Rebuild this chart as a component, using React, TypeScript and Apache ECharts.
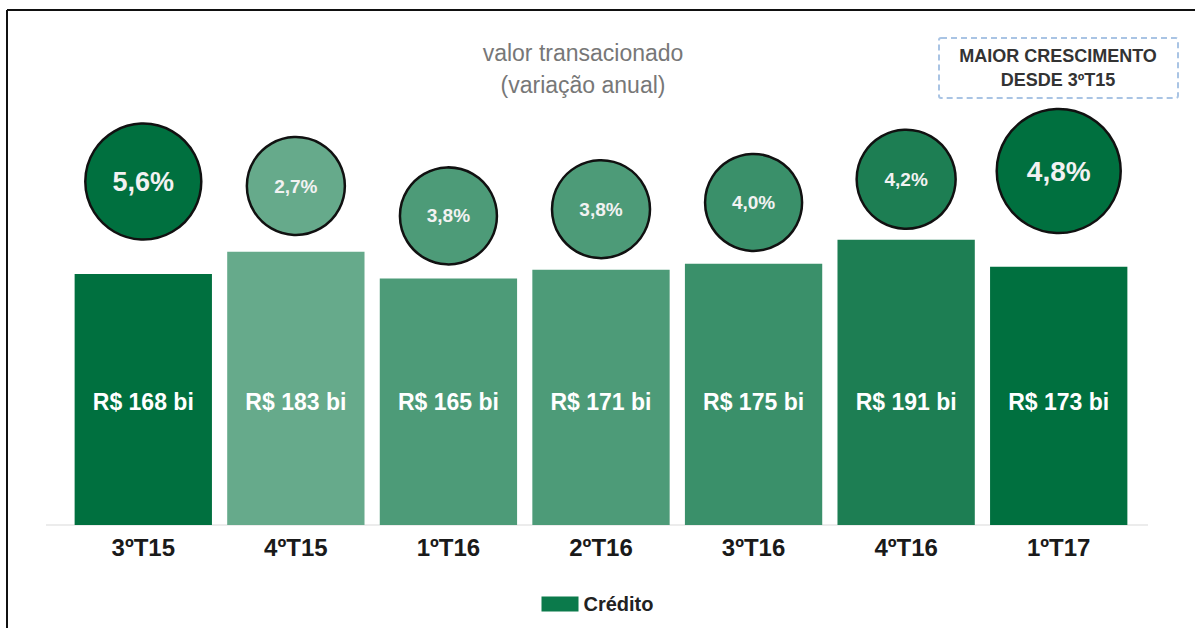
import React, { useEffect, useRef } from "react";
import * as echarts from "echarts";

const categories = ["3ºT15", "4ºT15", "1ºT16", "2ºT16", "3ºT16", "4ºT16", "1ºT17"];
const creditValues = [168, 183, 165, 171, 175, 191, 173];
const growthLabels = ["5,6%", "2,7%", "3,8%", "3,8%", "4,0%", "4,2%", "4,8%"];
const barColors = ["#00703F", "#66AA8B", "#4D9B78", "#4D9B78", "#3A906A", "#1D7E53", "#00703F"];
// bubble layout (placement on the value axis, diameter, font size)
const bubbleLevels = [230, 227, 207, 211.5, 216, 231.5, 237];
const bubbleSizes = [116, 98, 97, 98, 97, 99, 124];
const bubbleFont = [27, 19, 19, 19, 19, 19, 28];

const FONT = "Liberation Sans, Arial, sans-serif";

export default function App() {
  const ref = useRef<HTMLDivElement>(null);
  useEffect(() => {
    if (!ref.current) return;
    const chart = echarts.init(ref.current, null, { renderer: "svg" });
    chart.setOption({
      animation: false,
      backgroundColor: "#ffffff",
      textStyle: { fontFamily: FONT },
      grid: { left: 67, width: 1068, top: 77, bottom: 103 },
      legend: {
        data: ["Crédito"],
        top: 589,
        left: "center",
        icon: "rect",
        itemWidth: 37,
        itemHeight: 15,
        itemGap: 10,
        textStyle: { fontSize: 20, fontWeight: "bold", color: "#222", fontFamily: FONT },
      },
      xAxis: {
        type: "category",
        data: categories,
        axisLine: { show: false },
        axisTick: { show: false },
        axisLabel: { fontSize: 24, fontWeight: "bold", color: "#1a1a1a", margin: 10 },
      },
      yAxis: { type: "value", min: 0, max: 300, show: false, splitLine: { show: false } },
      graphic: [
        { type: "line", shape: { x1: 46, y1: 525, x2: 1148, y2: 525 }, style: { stroke: "#d9d9d9", lineWidth: 1 }, z: 0 },
        { type: "line", shape: { x1: 7, y1: 10, x2: 1195, y2: 10 }, style: { stroke: "#111", lineWidth: 2 } },
        { type: "line", shape: { x1: 7, y1: 10, x2: 7, y2: 628 }, style: { stroke: "#111", lineWidth: 2 } },
        {
          type: "text",
          x: 583,
          y: 53,
          style: { text: "valor transacionado", fill: "#777777", fontSize: 23, align: "center", verticalAlign: "middle", fontFamily: FONT },
        },
        {
          type: "text",
          x: 583,
          y: 85,
          style: { text: "(variação anual)", fill: "#777777", fontSize: 23, align: "center", verticalAlign: "middle", fontFamily: FONT },
        },
        {
          type: "rect",
          shape: { x: 939, y: 38, width: 239, height: 60, r: 2 },
          style: { fill: "none", stroke: "#A9C4E4", lineWidth: 2, lineDash: [6, 4] },
        },
        {
          type: "text",
          x: 1058,
          y: 56,
          style: { text: "MAIOR CRESCIMENTO", fill: "#333", fontSize: 18, fontWeight: "bold", align: "center", verticalAlign: "middle", fontFamily: FONT },
        },
        {
          type: "text",
          x: 1058,
          y: 80,
          style: { text: "DESDE 3ºT15", fill: "#333", fontSize: 18, fontWeight: "bold", align: "center", verticalAlign: "middle", fontFamily: FONT },
        },
      ],
      series: [
        {
          name: "Crédito",
          type: "bar",
          barCategoryGap: "10%",
          itemStyle: { color: "#0B7A4B" },
          data: creditValues.map((v, i) => ({ value: v, itemStyle: { color: barColors[i] } })),
          label: {
            show: true,
            position: "insideBottom",
            distance: 112,
            formatter: (p: any) => `R$ ${p.value} bi`,
            color: "#ffffff",
            fontSize: 23,
            fontWeight: "bold",
          },
        },
        {
          name: "variação",
          type: "scatter",
          symbol: "circle",
          itemStyle: { opacity: 1 },
          data: bubbleLevels.map((v, i) => ({
            value: [i, v],
            symbolSize: bubbleSizes[i],
            itemStyle: { color: barColors[i], borderColor: "#111", borderWidth: 2.5, opacity: 1 },
            label: { fontSize: bubbleFont[i] },
          })),
          label: {
            show: true,
            position: "inside",
            formatter: (p: any) => growthLabels[p.dataIndex],
            color: "#f2f2f2",
            fontWeight: "bold",
          },
          z: 5,
        },
      ],
    });
    return () => chart.dispose();
  }, []);
  return <div ref={ref} style={{ position: "absolute", left: 0, top: 0, width: 1195, height: 628 }} />;
}
